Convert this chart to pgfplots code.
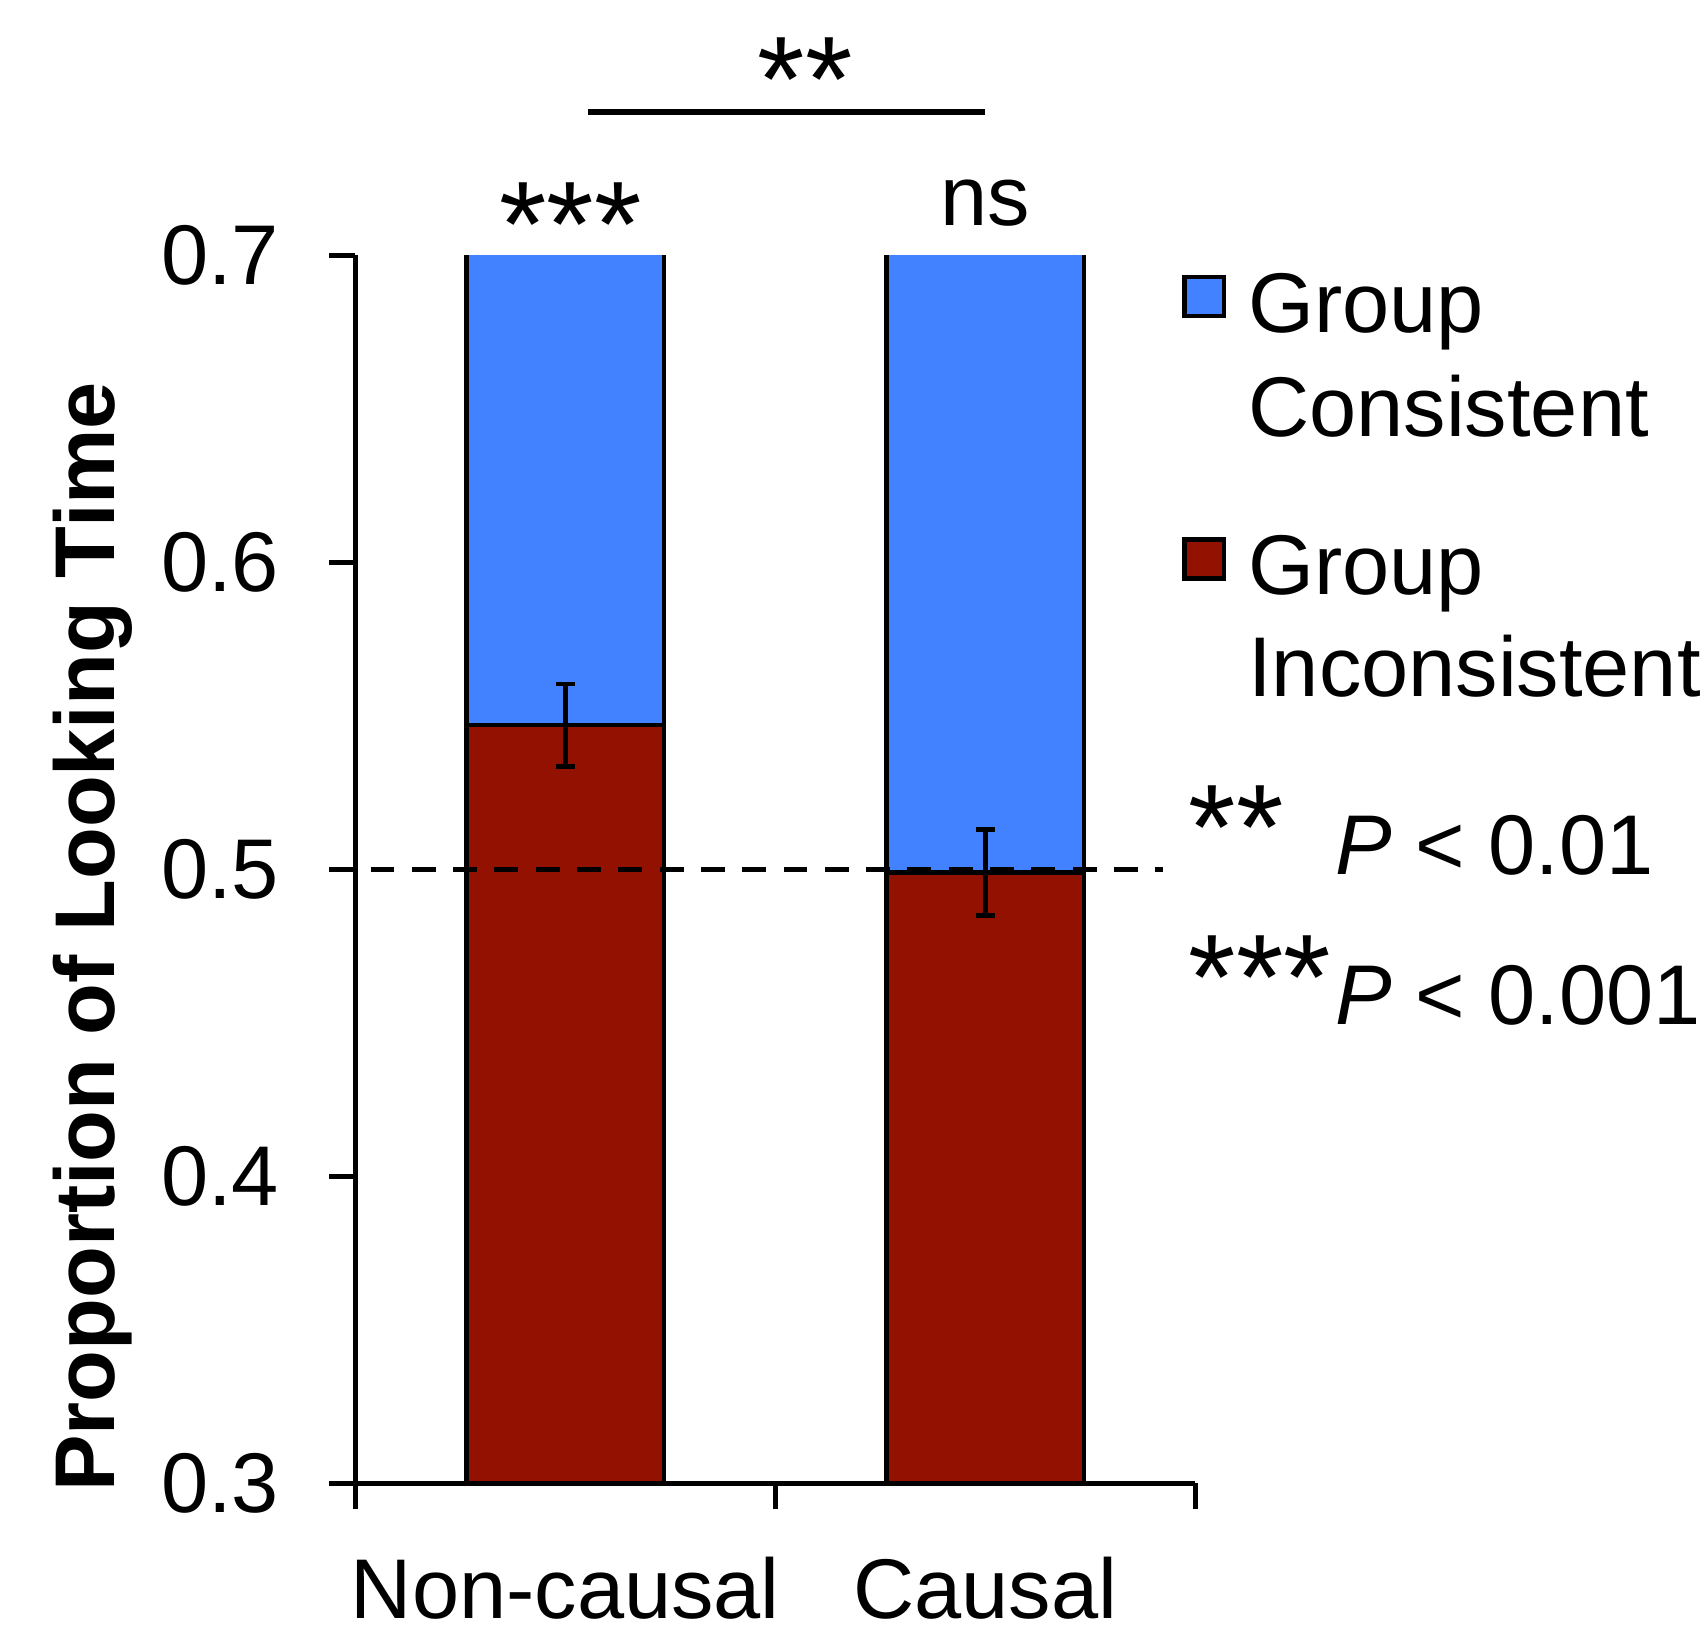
\documentclass[border=0pt]{standalone}
\usepackage{fontspec}
\setmainfont{Liberation Sans}
\usepackage{pgfplots}
\usepackage{pgfplotstable}
\pgfplotsset{compat=1.18}
\definecolor{consblue}{RGB}{66,129,255}
\definecolor{inconsred}{RGB}{147,17,0}
\newcommand{\fs}{\fontsize{19.5pt}{23pt}\selectfont}
\newcommand{\fa}{\fontsize{28pt}{30pt}\selectfont}

% proportion of looking time per condition
\pgfplotstableread{
x    incons  cons   err
0.5  0.547   0.453  0.0135
1.5  0.499   0.501  0.014
}\looking

\begin{document}
\begin{tikzpicture}
\begin{axis}[
    scale only axis,
    width=193.25pt, height=282.5pt,
    xmin=0, xmax=2, ymin=0.3, ymax=0.7,
    axis lines*=left,
    axis line style={line width=1pt},
    clip mode=individual,
    tick align=outside,
    major tick length=6pt,
    tick style={line width=1pt, black},
    xtick={0,1,2}, xticklabels={},
    extra x ticks={0.5,1.5},
    extra x tick labels={Non-causal,Causal},
    extra x tick style={major tick length=0pt},
    xticklabel style={yshift=-13.5pt},
    ytick={0.3,0.4,0.5,0.6,0.7},
    yticklabels={0.3,0.4,0.5,0.6,0.7},
    yticklabel style={xshift=-8pt},
    tick label style={font=\fs},
    ylabel={Proportion of Looking Time},
    ylabel style={font=\fs\bfseries, at={(axis description cs:-0.312,0.445)}, anchor=center},
]
\addplot[ybar, bar width=0.47, fill=consblue, draw=black, line width=1pt]
    table[x=x, y expr=\thisrow{incons}+\thisrow{cons}] {\looking};
\addplot[ybar, bar width=0.47, fill=inconsred, draw=black, line width=1pt,
    error bars/.cd, y dir=both, y explicit,
    error bar style={line width=1pt, black},
    error mark options={rotate=90, mark size=2.2pt, line width=1pt, black}]
    table[x=x, y=incons, y error=err] {\looking};

% chance level
\draw[black, line width=1pt, dash pattern=on 5.5pt off 4pt] (axis cs:-0.062,0.5) -- (axis cs:1.922,0.5);

% significance marks
\node[font=\fa, anchor=base, inner sep=0pt] at (axis cs:0.512,0.6965) {***};
\node[font=\fs, anchor=base, inner sep=0pt] at (axis cs:1.5006,0.7099) {ns};
\draw[line width=1.5pt] (axis cs:0.5537,0.7467) -- (axis cs:1.5,0.7467);
\node[font=\fa, anchor=base, inner sep=0pt] at (axis cs:1.0711,0.7435) {**};

% legend
\node[draw=black, line width=1pt, fill=consblue, minimum size=9pt, inner sep=0pt] at (axis cs:2.021,0.6867) {};
\node[draw=black, line width=1pt, fill=inconsred, minimum size=9pt, inner sep=0pt] at (axis cs:2.021,0.6011) {};
\node[font=\fs, anchor=base west, inner sep=0pt] at (axis cs:2.124,0.6749) {Group};
\node[font=\fs, anchor=base west, inner sep=0pt] at (axis cs:2.124,0.6409) {Consistent};
\node[font=\fs, anchor=base west, inner sep=0pt] at (axis cs:2.124,0.5896) {Group};
\node[font=\fs, anchor=base west, inner sep=0pt] at (axis cs:2.124,0.5563) {Inconsistent};
\node[font=\fa, anchor=base west, inner sep=0pt] at (axis cs:1.982,0.5) {**};
\node[font=\fa, anchor=base west, inner sep=0pt] at (axis cs:1.982,0.451) {***};
\node[font=\fs, anchor=base west, inner sep=0pt] at (axis cs:2.331,0.4982) {\textit{P} < 0.01};
\node[font=\fs, anchor=base west, inner sep=0pt] at (axis cs:2.331,0.4494) {\textit{P} < 0.001};

% canvas
\path (axis cs:-0.846,0.2512) rectangle (axis cs:3.211,0.7832);
\end{axis}
\end{tikzpicture}
\end{document}
